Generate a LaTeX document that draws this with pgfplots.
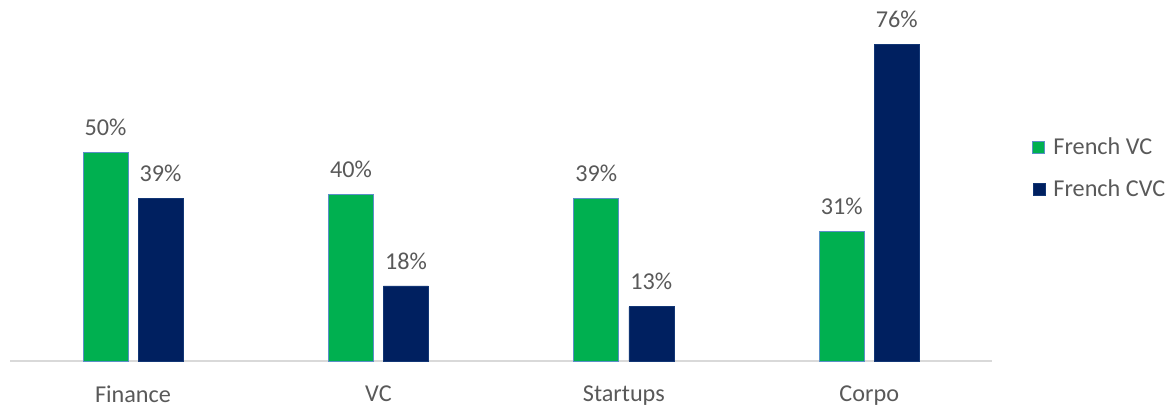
\documentclass[border=0pt]{standalone}
\usepackage{fontspec}
\setmainfont{Carlito}
\usepackage{pgfplots}
\pgfplotsset{compat=1.18}
\definecolor{vcgreen}{HTML}{00B050}
\definecolor{cvcnavy}{HTML}{002060}
\definecolor{barline}{HTML}{5B8FC7}
\definecolor{txtgrey}{HTML}{595959}
\definecolor{axgrey}{HTML}{D9D9D9}
\begin{document}
\begin{tikzpicture}
\useasboundingbox (-10.3bp,-46bp) rectangle (1161.7bp,361bp);
\begin{axis}[
  scale only axis,
  width=981.7bp, height=333.6bp,
  xmin=-0.5, xmax=3.5, ymin=0, ymax=80,
  ybar=10bp, bar width=45bp,
  axis y line=none,
  axis x line*=bottom,
  x axis line style={axgrey, line width=1.2bp, -},
  xtick={0,1,2,3},
  xticklabels={Finance, VC, Startups, Corpo},
  xtick style={draw=none},
  xticklabel style={font=\fontsize{24.3}{28}\selectfont, text=txtgrey, yshift=-17bp},
  /pgf/number format/assume math mode=true,
  nodes near coords={\pgfmathprintnumber{\pgfplotspointmeta}\%},
  every node near coord/.append style={font=\fontsize{24.3}{28}\selectfont, text=txtgrey, yshift=13bp},
  legend style={draw=none, fill=none, at={(1.041,0.578)}, anchor=west,
    font=\fontsize{24.3}{28}\selectfont, text=txtgrey, row sep=24bp,
    inner sep=0pt, legend cell align=left,
    nodes={inner xsep=8bp, inner ysep=0pt}},
  legend image code/.code={\draw[#1] (0bp,-6bp) rectangle (12bp,6bp);},
]
\addplot[fill=vcgreen, draw=barline, line width=1bp] coordinates {(0,50) (1,40) (2,39) (3,31)};
\addplot[fill=cvcnavy, draw=cvcnavy!80!barline, line width=0.6bp] coordinates {(0,39) (1,18) (2,13) (3,76)};
\legend{French VC, French CVC}
\end{axis}
\end{tikzpicture}
\end{document}
